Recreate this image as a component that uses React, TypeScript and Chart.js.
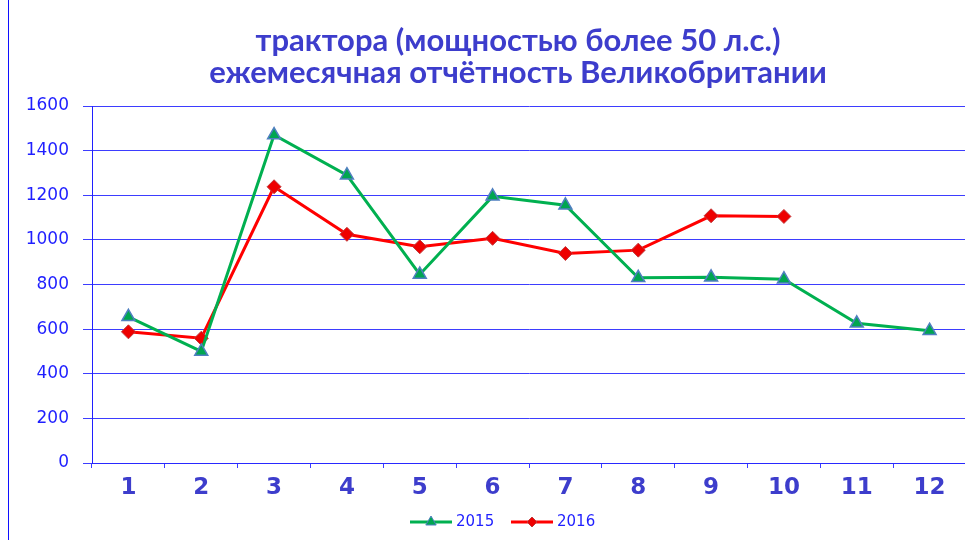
import React, { useEffect, useRef } from 'react';
import { Chart, registerables } from 'chart.js';

Chart.register(...registerables);

const months = ['1', '2', '3', '4', '5', '6', '7', '8', '9', '10', '11', '12'];
const series2015 = [655, 500, 1470, 1290, 845, 1195, 1155, 830, 832, 824, 626, 593];
const series2016 = [588, 559, 1238, 1025, 969, 1007, 939, 954, 1108, 1105, null, null];
const seriesLabels = ['2015', '2016'];
const titleLines = ['трактора (мощностью более 50 л.с.)', 'ежемесячная отчётность Великобритании'];
const yMin = 0;
const yMax = 1600;
const yStep = 200;

const GRID = 'rgba(40,40,255,0.9)';
const TICK_BLUE = '#1f1fff';
const TITLE_BLUE = '#3d3dcc';

const titlePlugin = {
  id: 'customTitle',
  afterDraw(chart: any) {
    const ctx = chart.ctx;
    ctx.save();
    ctx.fillStyle = TITLE_BLUE;
    ctx.font = 'bold 31px Lato';
    ctx.textAlign = 'center';
    ctx.textBaseline = 'middle';
    ctx.fillText(titleLines[0], 518, 41);
    ctx.fillText(titleLines[1], 518, 73);
    ctx.restore();
  },
};

const legendPlugin = {
  id: 'customLegend',
  afterDraw(chart: any) {
    const ctx = chart.ctx;
    const y = 522;
    const starts = [410, 511];
    chart.data.datasets.forEach((ds: any, i: number) => {
      const x = starts[i];
      ctx.save();
      ctx.strokeStyle = ds.borderColor;
      ctx.lineWidth = 3;
      ctx.beginPath();
      ctx.moveTo(x, y);
      ctx.lineTo(x + 42, y);
      ctx.stroke();
      ctx.fillStyle = ds.pointBackgroundColor;
      ctx.strokeStyle = ds.pointBorderColor;
      ctx.lineWidth = 1;
      ctx.beginPath();
      const cx = x + 21;
      if (ds.pointStyle === 'triangle') {
        const r = 6;
        ctx.moveTo(cx, y - r);
        ctx.lineTo(cx + r * 0.866, y + r * 0.5);
        ctx.lineTo(cx - r * 0.866, y + r * 0.5);
      } else {
        const r = 5;
        ctx.moveTo(cx, y - r);
        ctx.lineTo(cx + r, y);
        ctx.lineTo(cx, y + r);
        ctx.lineTo(cx - r, y);
      }
      ctx.closePath();
      ctx.fill();
      ctx.stroke();
      ctx.fillStyle = TICK_BLUE;
      ctx.font = '15px "DejaVu Sans"';
      ctx.textAlign = 'left';
      ctx.textBaseline = 'middle';
      ctx.fillText(ds.label, x + 46, y);
      ctx.restore();
    });
  },
};

export default function App() {
  const ref = useRef<HTMLCanvasElement>(null);

  useEffect(() => {
    if (!ref.current) return;
    const chart = new Chart(ref.current, {
      type: 'line',
      data: {
        labels: months,
        datasets: [
          {
            label: seriesLabels[0],
            data: series2015,
            borderColor: '#00b050',
            backgroundColor: '#00b050',
            borderWidth: 3,
            pointStyle: 'triangle',
            pointRadius: 7.5,
            pointBackgroundColor: '#00a650',
            pointBorderColor: '#4f7fc0',
            pointBorderWidth: 1.5,
            tension: 0,
          } as any,
          {
            label: seriesLabels[1],
            data: series2016,
            borderColor: '#ff0000',
            backgroundColor: '#ff0000',
            borderWidth: 3,
            pointStyle: 'rectRot',
            pointRadius: 7,
            pointBackgroundColor: '#ee0000',
            pointBorderColor: '#c0393b',
            pointBorderWidth: 1,
            tension: 0,
            spanGaps: false,
          } as any,
        ],
      },
      options: {
        animation: false,
        responsive: false,
        devicePixelRatio: 1,
        layout: { padding: { top: 106, left: 0, right: 3, bottom: 37 } },
        plugins: {
          legend: { display: false },
          title: { display: false },
          tooltip: { enabled: false },
        },
        scales: {
          x: {
            type: 'category',
            offset: true,
            grid: {
              display: true,
              drawOnChartArea: false,
              drawTicks: true,
              tickLength: 5,
              offset: true,
              color: GRID,
            },
            border: { display: true, color: GRID },
            ticks: {
              color: TITLE_BLUE,
              font: { family: '"DejaVu Sans"', size: 23, weight: 'bold' },
              padding: 6,
              maxRotation: 0,
            },
            afterFit: (s: any) => {
              s.height = 40;
            },
          },
          y: {
            min: yMin,
            max: yMax,
            ticks: {
              stepSize: yStep,
              color: TICK_BLUE,
              font: { family: '"DejaVu Sans"', size: 17 },
              padding: 14,
              callback: (v: any) => String(v),
            },
            grid: { color: GRID, tickLength: 9, lineWidth: 1 },
            border: { display: true, color: '#2020ff' },
            afterFit: (s: any) => {
              s.width = 92;
            },
          },
        },
      } as any,
      plugins: [titlePlugin, legendPlugin],
    });
    return () => chart.destroy();
  }, []);

  return (
    <div
      style={{
        position: 'fixed',
        left: 0,
        top: 0,
        width: 965,
        height: 540,
        overflow: 'hidden',
        background: '#ffffff',
      }}
    >
      <canvas ref={ref} width={975} height={540} style={{ width: 975, height: 540, display: 'block' }} />
      <div
        style={{
          position: 'absolute',
          left: 8,
          top: 0,
          width: 1,
          height: 540,
          background: '#1010ff',
        }}
      />
    </div>
  );
}
